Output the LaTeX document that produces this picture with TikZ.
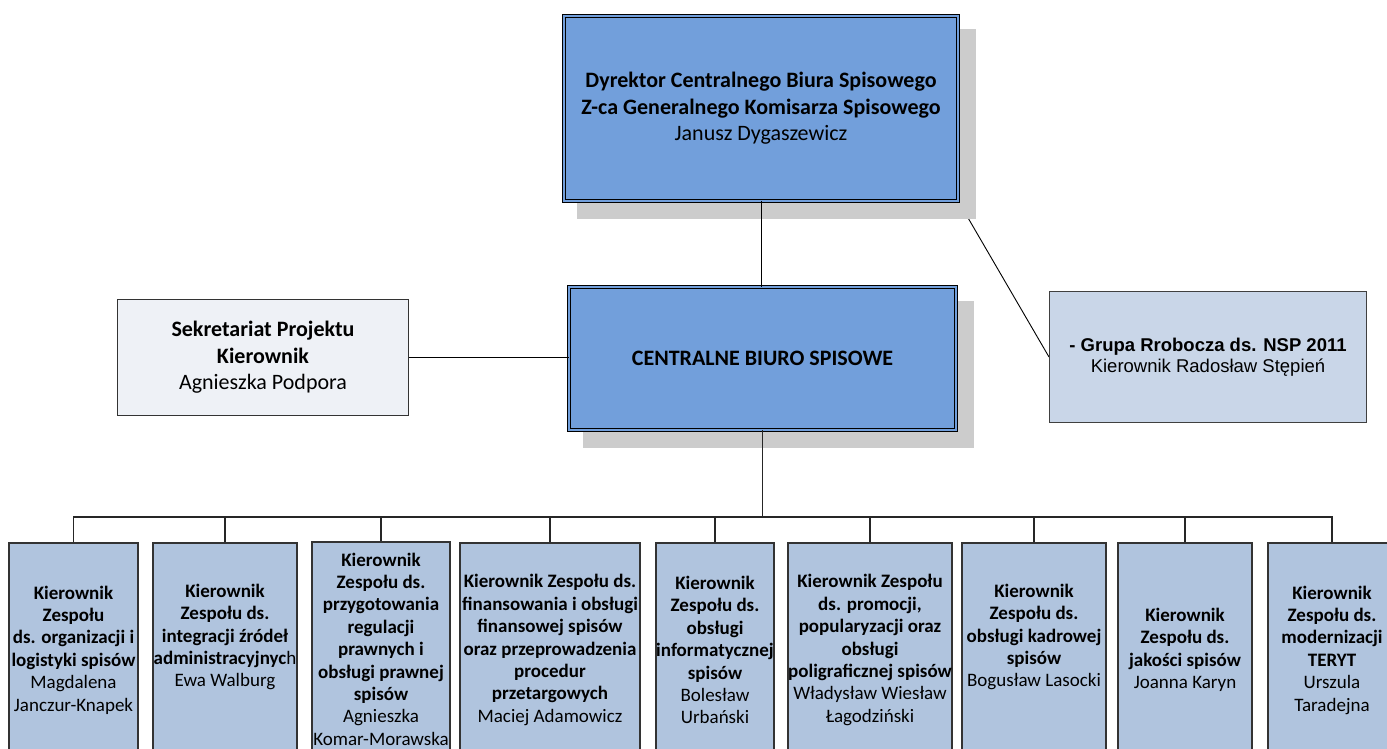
\documentclass[tikz,border=0pt]{standalone}
\usepackage{fontspec}
\setmainfont{Carlito}
\newfontfamily\arialf{Liberation Sans}
\pgfdeclarelayer{bg}
\pgfsetlayers{bg,main}
\definecolor{topblue}{RGB}{114,159,219}
\definecolor{botfill}{RGB}{176,196,222}
\definecolor{rightfill}{RGB}{201,214,232}
\definecolor{leftfill}{RGB}{238,241,246}
\definecolor{shadowgray}{RGB}{204,204,204}
\newcommand\regtext[1]{{\mdseries #1}}
\newcommand\oneline[1]{\mbox{#1}}
\tikzset{
  bigbox/.style={draw=black, line width=0.9pt, double=topblue, double distance=2.3pt,
    fill=topblue, inner sep=0pt, align=center, font=\fontsize{22}{26.5}\selectfont},
  leftbox/.style={draw=black!80, line width=1pt, fill=leftfill, inner sep=0pt,
    align=center, font=\fontsize{22}{26.5}\selectfont},
  rightbox/.style={draw=black!75, line width=1pt, fill=rightfill, inner sep=0pt,
    align=center, font=\arialf\fontsize{18.5}{21}\selectfont},
  botbox/.style={draw=black!80, line width=1.2pt, fill=botfill, inner sep=0pt,
    minimum height=214pt, minimum width=#1, text width=#1, align=flush center,
    font=\bfseries\fontsize{19}{22.4}\selectfont,
    execute at begin node={\hyphenpenalty=10000\exhyphenpenalty=10000}},
  conn/.style={draw=black, line width=0.9pt},
  busline/.style={draw=black!85, line width=1.1pt},
}
\begin{document}
\begin{tikzpicture}[x=1pt,y=-1pt]
\useasboundingbox (0,0) rectangle (1387,749);
\clip (0,0) rectangle (1387,749);

% top boxes
\node[bigbox, minimum width=394pt, minimum height=185pt] (top) at (761,108.5)
  {\textbf{Dyrektor Centralnego Biura Spisowego}\\\textbf{Z-ca Generalnego Komisarza Spisowego}\\Janusz Dygaszewicz};
\node[bigbox, minimum width=387pt, minimum height=143pt] (center) at (762.5,358.5)
  {\textbf{CENTRALNE BIURO SPISOWE}};
\node[leftbox, minimum width=291pt, minimum height=116pt] (left) at (263,357.5)
  {\textbf{Sekretariat Projektu}\\\textbf{Kierownik}\\Agnieszka Podpora};
\node[rightbox, minimum width=317pt, minimum height=131pt] (right) at (1208,357)
  {\textbf{- Grupa Rrobocza ds. NSP 2011}\\Kierownik Radosław Stępień};

% bottom boxes
\node[botbox=129pt] (b1) at (73.5,650)
  {Kierownik\\Zespołu\\\oneline{ds. organizacji i}\\\oneline{logistyki spisów}\\\regtext{Magdalena}\\\regtext{\oneline{Janczur-Knapek}}};
\node[botbox=144pt] (b2) at (225,650)
  {Kierownik\\Zespołu ds.\\\oneline{integracji źródeł}\\\oneline{administracyjnyc\regtext{h}}\\\regtext{Ewa Walburg}\\\strut};
\node[botbox=138pt] (b3) at (381,649)
  {Kierownik\\Zespołu ds.\\przygotowania\\regulacji\\prawnych i\\\oneline{obsługi prawnej}\\spisów\\\regtext{Agnieszka}\\\regtext{\oneline{Komar-Morawska}}};
\node[botbox=180pt] (b4) at (550,650)
  {\oneline{Kierownik Zespołu ds.}\\\oneline{finansowania i obsługi}\\\oneline{finansowej spisów}\\\oneline{oraz przeprowadzenia}\\procedur\\przetargowych\\\regtext{\oneline{Maciej Adamowicz}}};
\node[botbox=118pt] (b5) at (715,650)
  {Kierownik\\Zespołu ds.\\obsługi\\\oneline{informatycznej}\\spisów\\\regtext{Bolesław}\\\regtext{Urbański}};
\node[botbox=164pt] (b6) at (870,650)
  {\oneline{Kierownik Zespołu}\\\oneline{ds. promocji,}\\\oneline{popularyzacji oraz}\\obsługi\\\oneline{poligraficznej spisów}\\\regtext{\oneline{Władysław Wiesław}}\\\regtext{Łagodziński}};
\node[botbox=144pt] (b7) at (1034,650)
  {Kierownik\\Zespołu ds.\\\oneline{obsługi kadrowej}\\spisów\\\regtext{\oneline{Bogusław Lasocki}}\\\strut};
\node[botbox=134pt] (b8) at (1185,650)
  {Kierownik\\Zespołu ds.\\\oneline{jakości spisów}\\\regtext{\oneline{Joanna Karyn}}};
\node[botbox=128pt] (b9) at (1332,650)
  {Kierownik\\Zespołu ds.\\\oneline{modernizacji}\\TERYT\\\regtext{Urszula}\\\regtext{Taradejna}};

% background: diagonal connector under shadows
\begin{pgfonlayer}{bg}
  \draw[conn] (top.south east) -- (right.west);
  \fill[shadowgray] ([shift={(13,13)}]top.north west) rectangle ([shift={(18,18)}]top.south east);
  \fill[shadowgray] ([shift={(14,14)}]center.north west) rectangle ([shift={(18,18)}]center.south east);
\end{pgfonlayer}

% connectors
\draw[conn] (top.south) -- (top.south |- center.north);
\draw[conn] (left.east) -- (left.east -| center.west);
\coordinate (busL) at (73.5,517);
\draw[busline] (center.south) -- (center.south |- busL);
\draw[busline] (b1.north) -- (b1.north |- busL) -| (b9.north);
\foreach \b in {b2,b3,b4,b5,b6,b7,b8}{
  \draw[busline] (\b.north) -- (\b.north |- busL);
}
\end{tikzpicture}
\end{document}
